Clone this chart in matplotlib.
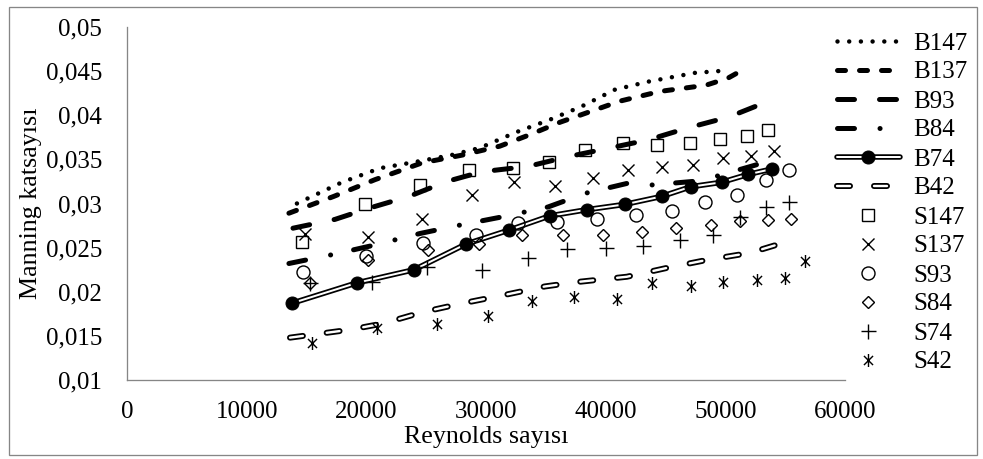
import matplotlib
matplotlib.use("Agg")
import matplotlib.pyplot as plt
from matplotlib.legend_handler import HandlerTuple
from matplotlib.patches import Rectangle
from matplotlib.path import Path
from matplotlib.ticker import FuncFormatter, MultipleLocator

# Reynolds number (x) and Manning coefficient (y) for each series
b147_re = [14200, 17960, 21140, 24060, 27150, 29490, 32560, 35340, 37990, 40770, 43530, 47450, 50380]
b147_n = [0.0300, 0.0324, 0.0340, 0.0347, 0.0355, 0.0363, 0.0381, 0.0395, 0.0410, 0.0429, 0.0438, 0.0448, 0.0451]

b137_re = [13530, 17270, 20720, 24650, 28070, 31160, 33670, 36170, 38680, 41190, 44530, 48370, 50210, 51800]
b137_n = [0.0289, 0.0308, 0.0327, 0.0346, 0.0355, 0.0365, 0.0378, 0.0392, 0.0404, 0.0416, 0.0427, 0.0434, 0.0442, 0.0454]

b93_re = [13870, 17380, 20300, 23560, 26730, 29660, 33500, 36840, 40020, 43530, 46950, 50290, 52880]
b93_n = [0.0272, 0.0282, 0.0295, 0.0308, 0.0325, 0.0336, 0.0342, 0.0353, 0.0362, 0.0372, 0.0386, 0.0398, 0.0412]

b84_re = [13530, 17130, 20720, 24480, 27990, 31410, 35170, 38430, 41860, 43860, 47290, 49290, 52630]
b84_n = [0.0232, 0.0242, 0.0253, 0.0266, 0.0276, 0.0285, 0.0296, 0.0312, 0.0323, 0.0321, 0.0325, 0.0331, 0.0344]

b74_re = [13780, 19190, 24000, 28320, 31960, 35340, 38430, 41600, 44670, 47120, 49680, 51910, 53860]
b74_n = [0.0187, 0.0210, 0.0225, 0.0254, 0.0270, 0.0286, 0.0293, 0.0299, 0.0308, 0.0319, 0.0324, 0.0333, 0.0339]

b42_re = [13620, 18630, 21390, 24730, 28070, 31410, 34920, 37590, 41770, 45110, 48450, 52050, 55220]
b42_n = [0.0148, 0.0157, 0.0164, 0.0177, 0.0187, 0.0196, 0.0206, 0.0211, 0.0217, 0.0227, 0.0236, 0.0244, 0.0257]

s147_re = [14660, 19910, 24500, 28550, 32270, 35260, 38260, 41460, 44320, 47030, 49540, 51800, 53580]
s147_n = [0.0256, 0.0300, 0.0321, 0.0338, 0.0340, 0.0347, 0.0361, 0.0368, 0.0366, 0.0368, 0.0373, 0.0376, 0.0383]

s137_re = [14870, 20180, 24650, 28840, 32330, 35760, 38930, 41880, 44670, 47310, 49820, 52170, 54040]
s137_n = [0.0266, 0.0262, 0.0282, 0.0310, 0.0324, 0.0320, 0.0329, 0.0338, 0.0341, 0.0344, 0.0352, 0.0354, 0.0359]

s93_re = [14700, 19970, 24700, 29180, 32690, 35950, 39310, 42550, 45550, 48310, 50940, 53440, 55360]
s93_n = [0.0222, 0.0240, 0.0255, 0.0264, 0.0278, 0.0279, 0.0283, 0.0287, 0.0291, 0.0302, 0.0310, 0.0327, 0.0338]

s84_re = [15290, 20160, 25170, 29410, 32970, 36450, 39770, 43000, 45890, 48810, 51190, 53580, 55460]
s84_n = [0.0210, 0.0236, 0.0247, 0.0254, 0.0264, 0.0264, 0.0264, 0.0268, 0.0272, 0.0276, 0.0280, 0.0281, 0.0283]

s74_re = [15290, 20440, 25040, 29630, 33530, 36730, 40020, 43150, 46200, 48980, 51190, 53440, 55310]
s74_n = [0.0210, 0.0211, 0.0228, 0.0225, 0.0238, 0.0248, 0.0250, 0.0252, 0.0259, 0.0264, 0.0285, 0.0296, 0.0302]

s42_re = [15430, 20860, 25870, 30180, 33880, 37340, 40910, 43840, 47090, 49820, 52610, 54970, 56640]
s42_n = [0.0142, 0.0159, 0.0164, 0.0172, 0.0189, 0.0194, 0.0192, 0.0210, 0.0206, 0.0211, 0.0213, 0.0216, 0.0235]

plt.rcParams['font.family'] = ['Liberation Serif', 'DejaVu Serif']

W, H = 983, 459
fig = plt.figure(figsize=(W / 72, H / 72), dpi=72)
ax = fig.add_axes([127 / W, 1 - 380 / H, (845 - 127) / W, (380 - 27) / H])

# outer chart border
fig.patches.append(Rectangle((9 / W, 4 / H), (977 - 9) / W, (452 - 4) / H,
                             transform=fig.transFigure, fill=False,
                             edgecolor='#868686', linewidth=1.3))

# asterisk marker: vertical bar plus an X
star = Path([(0, -1), (0, 1), (-0.7, -0.7), (0.7, 0.7), (-0.7, 0.7), (0.7, -0.7)],
            [Path.MOVETO, Path.LINETO, Path.MOVETO, Path.LINETO, Path.MOVETO, Path.LINETO])

rnd = dict(dash_capstyle='round', solid_capstyle='round')

h147, = ax.plot(b147_re, b147_n, color='black', lw=4.5, linestyle=(0, (0.0002, 2.6)), **rnd)
h137, = ax.plot(b137_re, b137_n, color='black', lw=5, linestyle=(0, (1.6, 2.8)), **rnd)
h93, = ax.plot(b93_re, b93_n, color='black', lw=5, linestyle=(0, (3.4, 5.0)), **rnd)
h84, = ax.plot(b84_re, b84_n, color='black', lw=5, linestyle=(0, (3.4, 5.1, 0.02, 4.7)), **rnd)

# B74: double line with filled circles
h74a, = ax.plot(b74_re, b74_n, color='black', lw=5.5, solid_capstyle='round')
h74b, = ax.plot(b74_re, b74_n, color='white', lw=2, solid_capstyle='round')
h74c, = ax.plot(b74_re, b74_n, color='black', linestyle='none', marker='o', ms=13)

# B42: double line, dashed
h42a, = ax.plot(b42_re, b42_n, color='black', lw=6, linestyle=(0, (13 / 6, 24 / 6)), **rnd)
h42b, = ax.plot(b42_re, b42_n, color='white', lw=2.4, linestyle=(0, (13 / 2.4, 24 / 2.4)), **rnd)

mk = dict(color='black', linestyle='none', markerfacecolor='none', markeredgecolor='black', mew=1.4)
hs147, = ax.plot(s147_re, s147_n, marker='s', ms=12, **mk)
hs137, = ax.plot(s137_re, s137_n, marker='x', ms=12, **mk)
hs93, = ax.plot(s93_re, s93_n, marker='o', ms=13, **mk)
hs84, = ax.plot(s84_re, s84_n, marker='D', ms=8, **mk)
hs74, = ax.plot(s74_re, s74_n, marker='+', ms=15, **mk)
hs42, = ax.plot(s42_re, s42_n, marker=star, ms=13, **mk)

ax.set_xlim(0, 60000)
ax.set_ylim(0.01, 0.05)
ax.xaxis.set_major_locator(MultipleLocator(10000))
ax.yaxis.set_major_locator(MultipleLocator(0.005))
ax.yaxis.set_major_formatter(FuncFormatter(lambda v, p: ('%g' % round(v, 4)).replace('.', ',')))
ax.xaxis.set_major_formatter(FuncFormatter(lambda v, p: '%d' % v))

for side in ['top', 'right']:
    ax.spines[side].set_visible(False)
for side in ['left', 'bottom']:
    ax.spines[side].set_color('#868686')
    ax.spines[side].set_linewidth(1.3)

ax.tick_params(axis='both', length=0, labelsize=25)
ax.tick_params(axis='x', pad=21)
ax.tick_params(axis='y', pad=25)

ax.set_xlabel('Reynolds sayısı', fontsize=26, labelpad=3)
ax.set_ylabel('Manning katsayısı', fontsize=26)
ax.yaxis.set_label_coords(-0.118, 0.5)

handles = [h147, h137, h93, h84, (h74a, h74b, h74c), (h42a, h42b),
           hs147, hs137, hs93, hs84, hs74, hs42]
labels = ['B147', 'B137', 'B93', 'B84', 'B74', 'B42',
          'S147', 'S137', 'S93', 'S84', 'S74', 'S42']
fig.legend(handles, labels, loc='upper left', bbox_to_anchor=(837 / W, 1 - 32 / H),
           frameon=False, fontsize=25, borderpad=0, borderaxespad=0,
           handlelength=2.5, handletextpad=0.55, labelspacing=0.26,
           handler_map={tuple: HandlerTuple(ndivide=1)})

fig.savefig('out.png', dpi=72)
